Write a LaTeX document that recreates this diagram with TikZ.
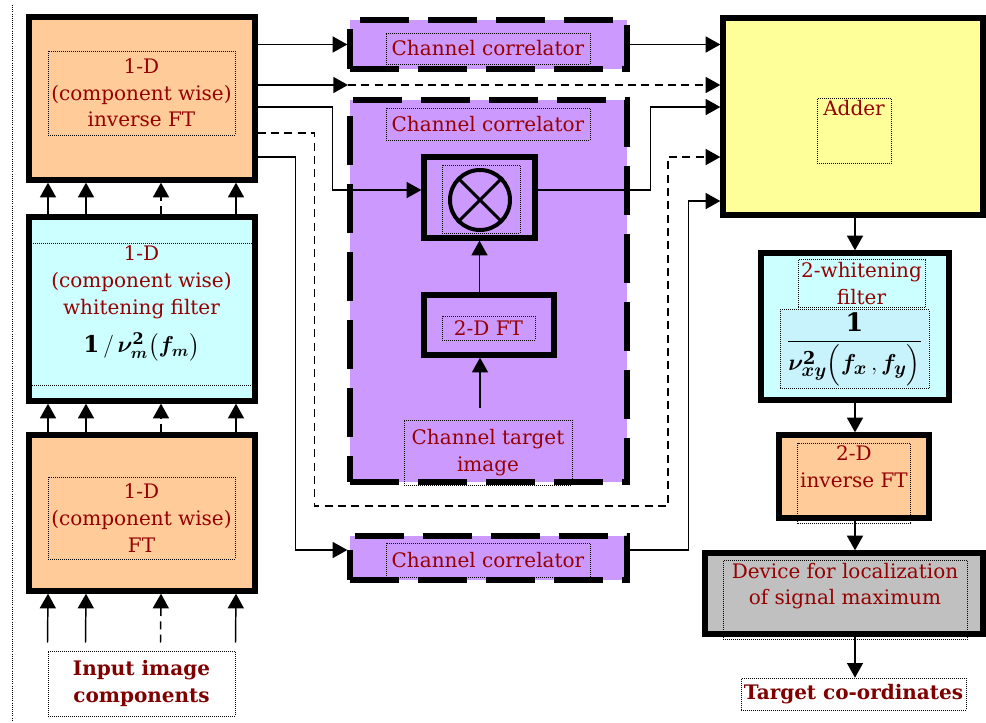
\documentclass[tikz,border=0pt]{standalone}
\usepackage{amsmath}
\usepackage{bm}
\usepackage{fontspec}
\setmainfont{DejaVu Serif}
\usetikzlibrary{arrows.meta,positioning}
\definecolor{txtred}{RGB}{150,0,0}
\definecolor{boldred}{RGB}{128,0,0}
\definecolor{ftorange}{RGB}{255,204,153}
\definecolor{filtcyan}{RGB}{204,255,255}
\definecolor{corrpurple}{RGB}{204,153,255}
\definecolor{addyellow}{RGB}{255,255,153}
\definecolor{devgray}{RGB}{192,192,192}
\definecolor{formbg}{RGB}{200,242,252}

\begin{document}
\begin{tikzpicture}[x=0.75pt,y=-0.75pt,
  solidbox/.style={draw, line width=4pt, inner sep=0pt},
  corrbox/.style={draw, fill=corrpurple, line width=4pt, dash pattern=on 37pt off 14pt, inner sep=0pt},
  lbl/.style={draw, densely dotted, line width=0.5pt, text=txtred, align=center, inner sep=2pt, font=\fontsize{15}{20}\selectfont},
  boldlbl/.style={lbl, text=boldred, font=\fontsize{15}{20}\selectfont\bfseries},
  dashline/.style={dash pattern=on 6pt off 4pt},
  conn/.style={line width=1.1pt, -{Triangle[length=11pt,width=12pt]}}]
\useasboundingbox (0,0) rectangle (986,723);
\draw[densely dotted, line width=0.6pt] (12,5) -- (12,720);

% Create nodes for the component wise chain
\node[solidbox, fill=ftorange, minimum width=169.5pt, minimum height=122.25pt] (invft) at (142,98.5) {};
\node[lbl, minimum width=140.25pt, minimum height=63pt] (invftlbl) at (141.5,93) {1-D\\(component wise)\\inverse FT};
\node[solidbox, fill=filtcyan, minimum width=169.5pt, minimum height=138pt] (whiten) at (142,309) {};
\node[lbl, anchor=north, minimum width=167.25pt, text depth=22pt] (whitenlbl) at (141.5,243)
  {1-D\\(component wise)\\whitening filter\\[9pt]{\color{black}\fontsize{17.28}{20}\selectfont$\mathbf{1}\,/\,\bm{\nu}^{\mathbf{2}}_{\bm{m}}\bigl(\bm{f}_{\bm{m}}\bigr)$}};
\node[solidbox, fill=ftorange, minimum width=169.5pt, minimum height=117pt] (ft) at (142,513) {};
\node[lbl, minimum width=140.25pt, minimum height=61.5pt] (ftlbl) at (141.5,518) {1-D\\(component wise)\\FT};
\node[boldlbl, minimum width=140.25pt, minimum height=48.75pt] (inp) at (141.5,683.5) {Input image\\components};

% Channel correlators
\node[corrbox, minimum width=207.75pt, minimum height=36.75pt] (cc1) at (488.5,44.5) {};
\node[lbl, minimum width=153pt, minimum height=23.25pt] (cc1lbl) at (488,48.5) {Channel correlator};
\node[corrbox, minimum width=207.75pt, minimum height=286.5pt] (ccbig) at (488.5,291) {};
\node[lbl, minimum width=153pt, minimum height=24pt] (ccbiglbl) at (488,124) {Channel correlator};
\node[solidbox, minimum width=83.25pt, minimum height=60.75pt] (mult) at (479.5,197.5) {};
\node[lbl, minimum width=58.5pt, minimum height=51pt] (multlbl) at (481,199) {};
\node[circle, draw, line width=3pt, minimum size=45pt, inner sep=0pt] (prod) at (480,200) {};
\draw[line width=2.2pt, shorten <=2pt, shorten >=2pt] (prod.45) -- (prod.225) (prod.135) -- (prod.315);
\node[solidbox, minimum width=97.5pt, minimum height=45pt] (ft2d) at (489,325) {};
\node[lbl, minimum width=69.75pt, minimum height=18pt] (ft2dlbl) at (488.5,328) {2-D FT};
\node[lbl, minimum width=126pt, minimum height=48.75pt] (tgtimg) at (488,452.5) {Channel target\\image};
\coordinate (tgtin) at (480,408);
\node[corrbox, minimum width=207.75pt, minimum height=33pt] (cc3) at (488.5,558) {};
\node[lbl, minimum width=153pt, minimum height=25.5pt] (cc3lbl) at (488,560) {Channel correlator};

% Adder and 2-D chain
\node[solidbox, fill=addyellow, minimum width=195pt, minimum height=147.75pt] (adder) at (853,116.5) {};
\node[lbl, minimum width=55.5pt, text height=11pt, text depth=34pt] (adderlbl) at (854,131) {Adder};
\node[solidbox, fill=filtcyan, minimum width=141pt, minimum height=110.25pt] (wh2) at (855,326.5) {};
\node[lbl, minimum width=95.25pt, minimum height=35.25pt] (wh2lbl) at (861.5,283.5) {2-whitening\\filter};
\node[lbl, fill=formbg, minimum width=111.75pt, minimum height=58.5pt] (frac) at (854.5,349)
  {\color{black}\fontsize{19}{22}\selectfont$\displaystyle\frac{\mathbf{1}}{\bm{\nu}^{\mathbf{2}}_{\bm{xy}}\Bigl(\bm{f}_{\bm{x}}\,,\bm{f}_{\bm{y}}\Bigr)}$};
\node[solidbox, fill=ftorange, minimum width=112.5pt, minimum height=62.25pt] (ift2d) at (854,476.5) {};
\node[lbl, anchor=north, minimum width=84pt, text depth=25pt] (ift2dlbl) at (854,443) {2-D\\inverse FT};
\node[solidbox, fill=devgray, minimum width=208.5pt, minimum height=60.75pt] (device) at (844,593.5) {};
\node[lbl, anchor=north, minimum width=183pt, text depth=24pt] (devicelbl) at (845,560) {Device for localization\\of signal maximum};
\node[boldlbl, minimum width=167.25pt, minimum height=24pt] (target) at (853.5,694) {Target co-ordinates};

% Component arrows
\foreach \dx/\ls in {-94/solid,-56/solid,19/dashline,94/solid}{
  \draw[conn,\ls] ([xshift=\dx*0.75pt]whiten.north) -- ([xshift=\dx*0.75pt]invft.south);
  \draw[conn,\ls] ([xshift=\dx*0.75pt]ft.north) -- ([xshift=\dx*0.75pt]whiten.south);
  \draw[conn,\ls] ([xshift=\dx*0.75pt,yshift=6pt]inp.north) -- ([xshift=\dx*0.75pt]ft.south);
}

% Outputs of the inverse FT
\coordinate (split) at (348,85);
\coordinate (loopturn) at (668,506);
\draw[conn] (invft.east |- cc1.west) -- (cc1.west);
\draw[conn] (invft.east |- split) -- (split);
\draw[conn,dashline] (split) -- (adder.west |- split);
\draw[conn] ([yshift=-6.4pt]invft.east) -- ++(75,0) |- ([yshift=5.6pt]mult.west);
\draw[conn,dashline] ([yshift=-25.9pt]invft.east) -- ++(57,0) |- (loopturn) |- ([yshift=-30.4pt]adder.west);
\draw[conn] ([yshift=-43.9pt]invft.east) -- ++(38,0) |- ([yshift=6pt]cc3.west);

% Into the adder
\draw[conn] (cc1.east) -- (adder.west |- cc1.east);
\draw[conn] ([yshift=5.6pt]mult.east) -- ++(113,0) |- ([yshift=7.1pt]adder.west);
\draw[conn] ([yshift=6pt]cc3.east) -- ++(59,0) |- ([yshift=-63.4pt]adder.west);

% Inside the big correlator
\draw[conn] (tgtin) -- (tgtin |- ft2d.south);
\draw[conn] (mult.south |- ft2d.north) -- (mult.south);

% Right column
\draw[conn] (wh2.north |- adder.south) -- (wh2.north);
\draw[conn] (wh2.south) -- (wh2.south |- ift2d.north);
\draw[conn] (wh2.south |- ift2d.south) -- (wh2.south |- device.north);
\draw[conn] (wh2.south |- device.south) -- (wh2.south |- target.north);
\end{tikzpicture}
\end{document}
